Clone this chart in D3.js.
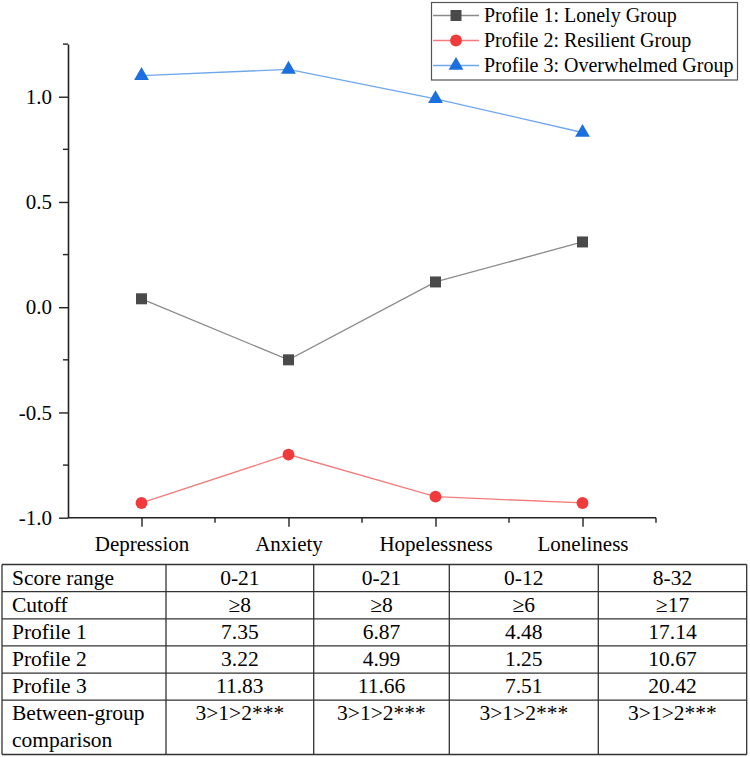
<!DOCTYPE html>
<html lang="en">
<head>
    <meta charset="UTF-8">
    <title>Latent profiles line chart with table</title>
    <script src="https://d3js.org/d3.v7.min.js"></script>
    <style>
        body { margin: 0; background: #fff; }
        svg text { fill: #000; }
    </style>
</head>
<body>
    <svg width="750" height="757"></svg>

    <script>
        // Data
        const categories = ["Depression", "Anxiety", "Hopelessness", "Loneliness"];
        const seriesNames = ["Profile 1: Lonely Group", "Profile 2: Resilient Group", "Profile 3: Overwhelmed Group"];
        const profile1 = [0.04, -0.25, 0.12, 0.31];
        const profile2 = [-0.93, -0.70, -0.90, -0.93];
        const profile3 = [1.10, 1.13, 0.99, 0.83];
        const yMajorTicks = [-1.0, -0.5, 0.0, 0.5, 1.0];
        const yMinorTicks = [-0.75, -0.25, 0.25, 0.75, 1.25];

        // Table data
        const rowLabels = ["Score range", "Cutoff", "Profile 1", "Profile 2", "Profile 3", "Between-group comparison"];
        const scoreRange = ["0-21", "0-21", "0-12", "8-32"];
        const cutoff = ["≥8", "≥8", "≥6", "≥17"];
        const tableProfile1 = ["7.35", "6.87", "4.48", "17.14"];
        const tableProfile2 = ["3.22", "4.99", "1.25", "10.67"];
        const tableProfile3 = ["11.83", "11.66", "7.51", "20.42"];
        const comparison = ["3>1>2***", "3>1>2***", "3>1>2***", "3>1>2***"];

        const serif = '"Liberation Serif", "Times New Roman", Times, Tinos, "Noto Serif", "DejaVu Serif", FreeSerif, serif';
        const svg = d3.select("svg");

        // Plot area
        const plot = { left: 68, right: 656, top: 44.1, bottom: 517.7 };

        const x = d3.scalePoint()
            .domain(categories)
            .range([plot.left, plot.right])
            .padding(0.5);

        const y = d3.scaleLinear()
            .domain([-1.0, 1.25])
            .range([plot.bottom, plot.top]);

        const step = x.step();

        // Minor x ticks (between categories and at right end)
        const xMinor = categories.slice(1).map(c => x(c) - step / 2).concat([x(categories[categories.length - 1]) + step / 2]);

        svg.append("g")
            .selectAll("line")
            .data(xMinor)
            .join("line")
            .attr("x1", d => d).attr("x2", d => d)
            .attr("y1", plot.bottom).attr("y2", plot.bottom + 5)
            .attr("stroke", "#222").attr("stroke-width", 1.4);

        // x axis
        const xAxis = svg.append("g")
            .attr("transform", `translate(0,${plot.bottom})`)
            .call(d3.axisBottom(x).tickSize(9).tickSizeOuter(0).tickPadding(9));
        xAxis.attr("font-family", serif).attr("font-size", 21);
        xAxis.select(".domain").attr("stroke", "#222").attr("stroke-width", 1.6)
            .attr("d", `M${plot.left},0H${plot.right}`);
        xAxis.selectAll(".tick line").attr("stroke", "#222").attr("stroke-width", 1.4);
        xAxis.selectAll(".tick text").attr("fill", "#000");

        // y axis
        const yAxis = svg.append("g")
            .attr("transform", `translate(${plot.left},0)`)
            .call(d3.axisLeft(y).tickValues(yMajorTicks).tickFormat(d => d.toFixed(1))
                .tickSize(9).tickSizeOuter(0).tickPadding(7));
        yAxis.attr("font-family", serif).attr("font-size", 21);
        yAxis.select(".domain").attr("stroke", "#222").attr("stroke-width", 1.6);
        yAxis.selectAll(".tick line").attr("stroke", "#222").attr("stroke-width", 1.4);
        yAxis.selectAll(".tick text").attr("fill", "#000");

        svg.append("g")
            .attr("transform", `translate(${plot.left},0)`)
            .selectAll("line")
            .data(yMinorTicks)
            .join("line")
            .attr("x1", -5).attr("x2", 0)
            .attr("y1", d => y(d)).attr("y2", d => y(d))
            .attr("stroke", "#222").attr("stroke-width", 1.4);

        // Series
        const series = [
            { name: seriesNames[0], values: profile1, line: "#8a8a8a", fill: "#4a4a4a", shape: d3.symbolSquare, size: 121 },
            { name: seriesNames[1], values: profile2, line: "#f47c7c", fill: "#f03a3c", shape: d3.symbolCircle, size: 110 },
            { name: seriesNames[2], values: profile3, line: "#6ea7ee", fill: "#1b6fde", shape: d3.symbolTriangle, size: 95 }
        ];

        const line = d3.line()
            .x((d, i) => x(categories[i]))
            .y(d => y(d));

        series.forEach(s => {
            svg.append("path")
                .datum(s.values)
                .attr("fill", "none")
                .attr("stroke", s.line)
                .attr("stroke-width", 1.3)
                .attr("d", line);

            svg.append("g")
                .selectAll("path")
                .data(s.values)
                .join("path")
                .attr("transform", (d, i) => `translate(${x(categories[i])},${y(d)})`)
                .attr("d", d3.symbol(s.shape, s.size))
                .attr("fill", s.fill);
        });

        // Legend
        const legend = svg.append("g");
        legend.append("rect")
            .attr("x", 431.5).attr("y", 2.5)
            .attr("width", 306).attr("height", 77.5)
            .attr("fill", "#fff")
            .attr("stroke", "#555").attr("stroke-width", 1.2);

        series.forEach((s, i) => {
            const cy = 15.5 + i * 25;
            const g = legend.append("g");
            g.append("line")
                .attr("x1", 433).attr("x2", 479)
                .attr("y1", cy).attr("y2", cy)
                .attr("stroke", s.line).attr("stroke-width", 1.3);
            g.append("path")
                .attr("transform", `translate(456,${cy})`)
                .attr("d", d3.symbol(s.shape, s.size))
                .attr("fill", s.fill);
            g.append("text")
                .attr("x", 484).attr("y", cy + 6.5)
                .attr("font-family", serif)
                .attr("font-size", 20)
                .text(s.name);
        });

        // Table
        const tableRows = [scoreRange, cutoff, tableProfile1, tableProfile2, tableProfile3, comparison];
        const rowSpans = [1, 1, 1, 1, 1, 2];
        const colEdges = [2, 166, 313.7, 449.3, 598.3, 746.7];
        const tableTop = 564.5, tableBottom = 754.5;
        const unit = (tableBottom - tableTop) / d3.sum(rowSpans);
        const rowTops = rowSpans.map((s, i) => tableTop + d3.sum(rowSpans.slice(0, i)) * unit);

        const table = svg.append("g")
            .attr("font-family", serif)
            .attr("font-size", 21.5);

        table.selectAll(".hline")
            .data(rowTops.concat([tableBottom]))
            .join("line")
            .attr("x1", colEdges[0]).attr("x2", colEdges[colEdges.length - 1])
            .attr("y1", d => d).attr("y2", d => d)
            .attr("stroke", "#333").attr("stroke-width", 1.3);

        table.selectAll(".vline")
            .data(colEdges)
            .join("line")
            .attr("x1", d => d).attr("x2", d => d)
            .attr("y1", tableTop).attr("y2", tableBottom)
            .attr("stroke", "#333").attr("stroke-width", 1.3);

        rowLabels.forEach((label, r) => {
            const base = rowTops[r] + 20;
            const t = table.append("text")
                .attr("x", colEdges[0] + 10)
                .attr("y", base);
            if (rowSpans[r] > 1) {
                const words = label.split(" ");
                t.append("tspan").attr("x", colEdges[0] + 10).attr("y", base).text(words[0]);
                t.append("tspan").attr("x", colEdges[0] + 10).attr("y", base + 27).text(words.slice(1).join(" "));
            } else {
                t.text(label);
            }

            tableRows[r].forEach((val, c) => {
                table.append("text")
                    .attr("x", (colEdges[c + 1] + colEdges[c + 2]) / 2)
                    .attr("y", base)
                    .attr("text-anchor", "middle")
                    .text(val);
            });
        });
    </script>
</body>
</html>
